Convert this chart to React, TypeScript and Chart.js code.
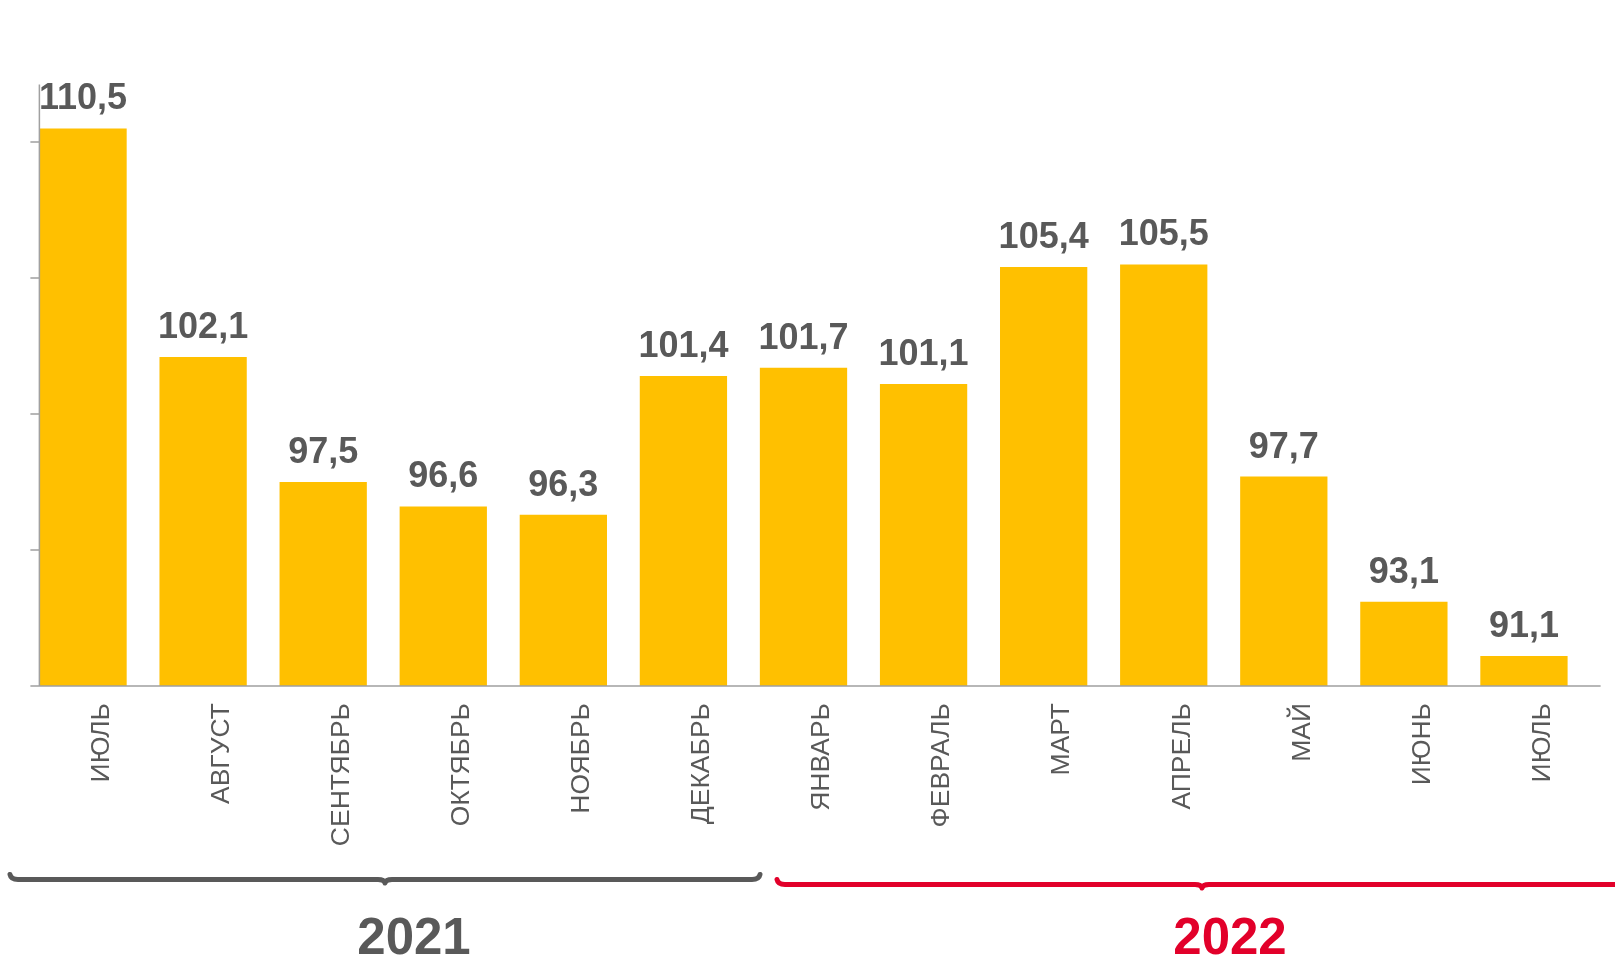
import React, { useEffect, useRef } from "react";
import { Chart, registerables } from "chart.js";

Chart.register(...registerables);

const months = [
  "ИЮЛЬ", "АВГУСТ", "СЕНТЯБРЬ", "ОКТЯБРЬ", "НОЯБРЬ", "ДЕКАБРЬ",
  "ЯНВАРЬ", "ФЕВРАЛЬ", "МАРТ", "АПРЕЛЬ", "МАЙ", "ИЮНЬ", "ИЮЛЬ",
];
const values = [110.5, 102.1, 97.5, 96.6, 96.3, 101.4, 101.7, 101.1, 105.4, 105.5, 97.7, 93.1, 91.1];
const yTicks = [90, 95, 100, 105, 110];
const years = ["2021", "2022"];

const FONT = "'Liberation Sans', Arial, Helvetica, sans-serif";
const TEXT = "#595959";
const AXIS = "#A0A0A0";
const RED = "#E2002A";

// decorative group braces & year captions (canvas coordinates)
const braces = [
  { x1: 10, x2: 760, tip: 385, y: 879.5, color: TEXT, tx: 414, ty: 954 },
  { x1: 777, x2: 1627, tip: 1202, y: 884.5, color: RED, tx: 1230, ty: 954 },
];

const fmt = (v: number) => v.toFixed(1).replace(".", ",");

const decorPlugin = {
  id: "decor",
  afterDatasetsDraw(chart: any) {
    const { ctx, chartArea, scales } = chart;
    const meta = chart.getDatasetMeta(0);
    const y = scales.y;
    const first = meta.data[0];
    const last = meta.data[meta.data.length - 1];
    const axisX = first.x - first.width / 2;
    const rightX = last.x + last.width / 2 + 33;

    ctx.save();
    // axes
    ctx.strokeStyle = AXIS;
    ctx.lineWidth = 1.5;
    ctx.beginPath();
    ctx.moveTo(axisX, chartArea.top - 3);
    ctx.lineTo(axisX, chartArea.bottom);
    ctx.moveTo(axisX - 9, chartArea.bottom);
    ctx.lineTo(rightX, chartArea.bottom);
    yTicks.forEach((t) => {
      const py = y.getPixelForValue(t);
      ctx.moveTo(axisX - 9, py);
      ctx.lineTo(axisX, py);
    });
    ctx.stroke();

    // value labels
    ctx.fillStyle = TEXT;
    ctx.font = `bold 36px ${FONT}`;
    ctx.textAlign = "center";
    ctx.textBaseline = "alphabetic";
    meta.data.forEach((bar: any, i: number) => {
      ctx.fillText(fmt(values[i]), bar.x, bar.y - 19);
    });

    // braces
    braces.forEach((b, i) => {
      ctx.strokeStyle = b.color;
      ctx.lineWidth = 5;
      ctx.lineCap = "round";
      ctx.lineJoin = "round";
      ctx.beginPath();
      ctx.moveTo(b.x1, b.y - 5);
      ctx.quadraticCurveTo(b.x1 + 1, b.y, b.x1 + 8, b.y);
      ctx.lineTo(b.tip - 7, b.y);
      ctx.quadraticCurveTo(b.tip - 1, b.y, b.tip, b.y + 3.5);
      ctx.quadraticCurveTo(b.tip + 1, b.y, b.tip + 7, b.y);
      ctx.lineTo(b.x2 - 8, b.y);
      ctx.quadraticCurveTo(b.x2 - 1, b.y, b.x2, b.y - 5);
      ctx.stroke();

      ctx.fillStyle = b.color;
      ctx.font = `bold 51px ${FONT}`;
      ctx.textAlign = "center";
      ctx.fillText(years[i], b.tx, b.ty);
    });
    ctx.restore();
  },
};

export default function App() {
  const ref = useRef<HTMLCanvasElement | null>(null);

  useEffect(() => {
    if (!ref.current) return;
    const chart = new Chart(ref.current, {
      type: "bar",
      data: {
        labels: months,
        datasets: [
          {
            data: values,
            backgroundColor: "#FFC000",
            borderWidth: 0,
            barPercentage: 0.727,
            categoryPercentage: 1,
          },
        ],
      },
      options: {
        responsive: false,
        animation: false,
        devicePixelRatio: 1,
        layout: { padding: { left: 23, right: 31, top: 87.6, bottom: 0 } },
        plugins: {
          legend: { display: false },
          tooltip: { enabled: false },
          title: { display: false },
        },
        scales: {
          x: {
            grid: { display: false, drawTicks: false },
            border: { display: false },
            ticks: {
              autoSkip: false,
              maxRotation: 90,
              minRotation: 90,
              padding: 17,
              labelOffset: 18.5,
              color: TEXT,
              font: { family: FONT, size: 26.5 },
            },
            afterFit: (scale: any) => {
              scale.height = 274;
            },
          },
          y: {
            display: false,
            min: 90,
            max: 112,
          },
        },
      },
      plugins: [decorPlugin],
    });
    return () => chart.destroy();
  }, []);

  return (
    <div style={{ position: "fixed", left: 0, top: 0, width: 1615, height: 960, background: "#fff" }}>
      <canvas ref={ref} width={1615} height={960} style={{ display: "block" }} />
    </div>
  );
}
